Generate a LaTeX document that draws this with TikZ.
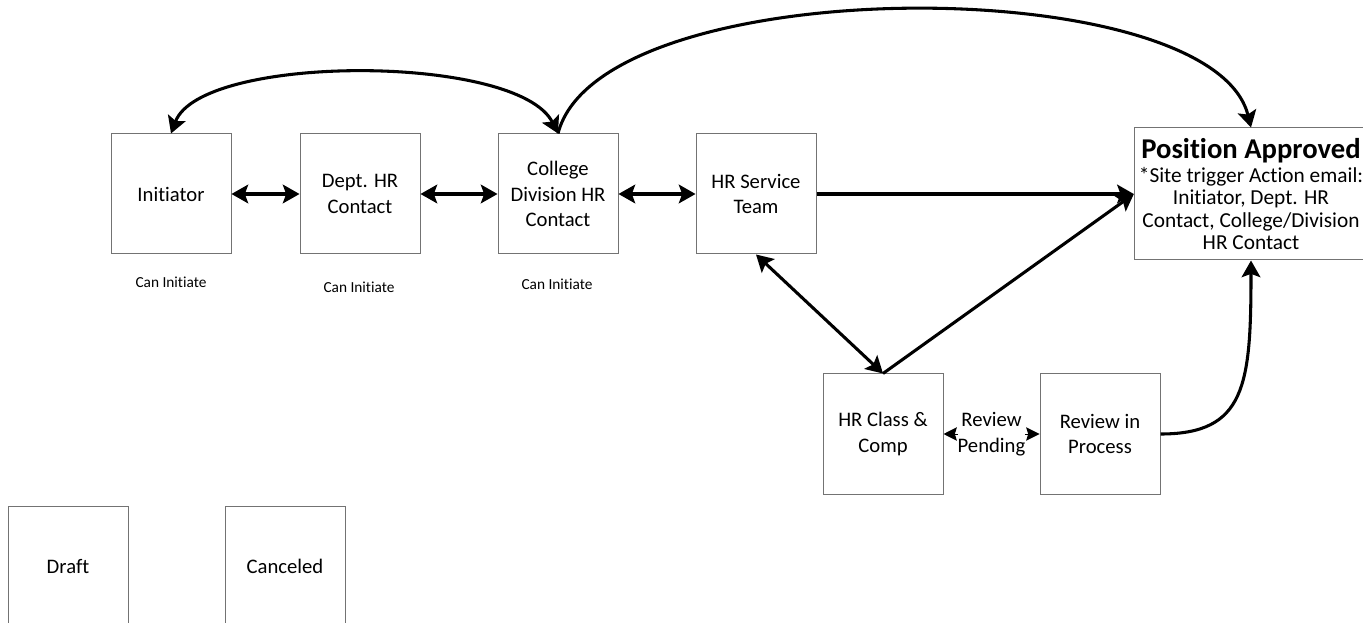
\documentclass[tikz,border=0pt]{standalone}
\usepackage{fontspec}
\setmainfont{Carlito}[Ligatures=NoCommon]
\usetikzlibrary{arrows.meta}
\usetikzlibrary{positioning}
\tikzset{
  statebox/.style={draw=black!55,line width=0.75pt,minimum width=90pt,minimum height=90pt,
    inner sep=2pt,align=center,font=\fontsize{15.5}{19}\selectfont},
  canlabel/.style={font=\fontsize{11.5}{13}\selectfont},
  flow/.style={line width=2.3pt,-{Stealth[length=12.5pt,width=14pt,inset=2.5pt]}},
  bothflow/.style={line width=2.3pt,{Stealth[length=12.5pt,width=14pt,inset=2.5pt]}-{Stealth[length=12.5pt,width=14pt,inset=2.5pt]}}
}

\begin{document}
\begin{tikzpicture}[x=0.75pt,y=-0.75pt]
  \useasboundingbox (0,0) rectangle (1363,623);

  % main row
  \node[statebox] (init) at (171,194) {Initiator};
  \node[statebox] (dept) at (360,194) {Dept. HR\\Contact};
  \node[statebox] (coll) at (558,194) {College\\Division HR\\Contact};
  \node[statebox] (serv) at (756,194) {HR Service\\Team};

  \node[canlabel] (initcan) at (171,282) {Can Initiate};
  \node[canlabel] (deptcan) at (359,287) {Can Initiate};
  \node[canlabel] (collcan) at (557,284) {Can Initiate};

  % approved box, runs off the right edge
  \node[statebox,minimum width=175pt,minimum height=99pt,font=\fontsize{16}{16.8}\selectfont] (approved) at (1251,194)
    {{\fontsize{21.5}{22}\selectfont\bfseries Position Approved}\\[1pt]
     *Site trigger Action email:\\Initiator, Dept. HR\\Contact, College/Division\\HR Contact};

  % review row
  \node[statebox] (class) at (883,434) {HR Class \&\\Comp};
  \node[statebox] (review) at (1100,434) {Review in\\Process};

  % other states
  \node[statebox] (draft) at (68,566) {Draft};
  \node[statebox] (cancel) at (285,566) {Canceled};

  \draw[bothflow] (init) -- (dept);
  \draw[bothflow] (dept) -- (coll);
  \draw[bothflow] (coll) -- (serv);
  \draw[flow] (serv) -- (approved.west);
  \draw[bothflow] (serv.south) -- (class.north);
  \draw[flow] (class.north) -- (approved.west);
  \draw[{Stealth[length=10pt,width=10pt,inset=1.5pt]}-{Stealth[length=10pt,width=10pt,inset=1.5pt]},line width=0.75pt]
    (class) -- node[fill=white,inner sep=0pt,align=center,font=\fontsize{15.5}{19}\selectfont] (pending) {Review\\Pending} (review);

  \draw[bothflow] (coll.north) .. controls +(-40,-80) and +(30,-80) .. (init.north);
  \draw[flow] (coll.north) .. controls +(42,-164) and +(-39,-158) .. (approved.north);
  \draw[flow] (review.east) .. controls +(85,0) and +(0,125) .. (approved.south);
\end{tikzpicture}
\end{document}
